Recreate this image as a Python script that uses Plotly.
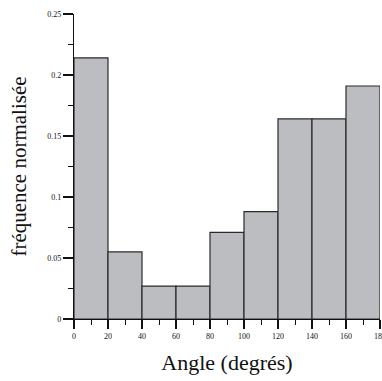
import plotly.graph_objects as go

bin_left = [0, 20, 40, 60, 80, 100, 120, 140, 160]
bin_width = 20
freq = [0.214, 0.055, 0.027, 0.027, 0.071, 0.088, 0.164, 0.164, 0.191]
x_ticks = [0, 20, 40, 60, 80, 100, 120, 140, 160, 180]
y_ticks = [0, 0.05, 0.1, 0.15, 0.2, 0.25]
y_tick_labels = ["0", "0.05", "0.1", "0.15", "0.2", "0.25"]

centers = [b + bin_width / 2 for b in bin_left]

fig = go.Figure(go.Bar(
    x=centers, y=freq, width=[bin_width] * len(freq),
    marker=dict(color="#bcbdc1", line=dict(color="#2a2a2a", width=1.2)),
))

font_fam = "Liberation Serif"
fig.update_layout(
    width=382, height=381,
    margin=dict(l=74, r=2, t=14, b=62, autoexpand=False),
    paper_bgcolor="white", plot_bgcolor="white",
    showlegend=False,
    font=dict(family=font_fam, color="#111"),
    xaxis=dict(
        range=[0, 180], tickvals=x_ticks, ticktext=[str(v) for v in x_ticks],
        ticks="outside", ticklen=9, tickwidth=1.5, tickcolor="#111",
        minor=dict(tickmode="linear", tick0=0, dtick=10, ticks="outside", ticklen=5, tickwidth=1.2, tickcolor="#111"),
        showline=True, linecolor="#111", linewidth=1.2,
        showgrid=False, zeroline=False, automargin=False,
        ticklabeloverflow="allow",
        tickfont=dict(size=8, family=font_fam, color="#111"),
        title=dict(text="Angle (degrés)", font=dict(size=22, family=font_fam, color="#111"), standoff=14),
    ),
    yaxis=dict(
        range=[0, 0.25], tickvals=y_ticks, ticktext=y_tick_labels,
        ticks="outside", ticklen=10, tickwidth=1.5, tickcolor="#111",
        minor=dict(tickmode="linear", tick0=0, dtick=0.025, ticks="outside", ticklen=5, tickwidth=1.2, tickcolor="#111"),
        showline=True, linecolor="#111", linewidth=1.2,
        showgrid=False, zeroline=False, automargin=False,
        tickfont=dict(size=8, family=font_fam, color="#111"),
        title=dict(text="fréquence normalisée", font=dict(size=21, family=font_fam, color="#111"), standoff=14),
    ),
)

fig.write_html("out.html")
